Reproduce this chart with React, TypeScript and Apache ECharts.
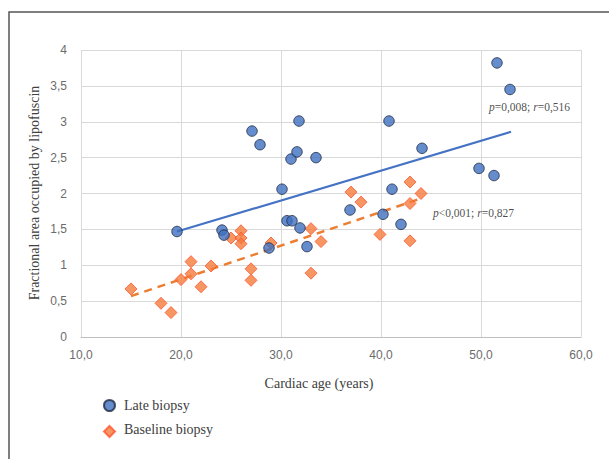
import React, { useEffect, useRef } from "react";
import * as echarts from "echarts";

// Late biopsy: [cardiac age, fractional area]
const lateBiopsy: [number, number][] = [
  [19.6, 1.47], [24.1, 1.49], [24.3, 1.42], [27.1, 2.87], [27.9, 2.68],
  [28.8, 1.24], [30.1, 2.06], [30.6, 1.62], [31.1, 1.62], [31.0, 2.48],
  [31.6, 2.58], [31.8, 3.01], [31.9, 1.52], [32.6, 1.26], [33.5, 2.5],
  [36.9, 1.77], [40.2, 1.71], [40.8, 3.01], [41.1, 2.06], [42.0, 1.57],
  [44.1, 2.63], [49.8, 2.35], [51.3, 2.25], [51.6, 3.82], [52.9, 3.45],
];

// Baseline biopsy
const baselineBiopsy: [number, number][] = [
  [15.0, 0.67], [18.0, 0.47], [19.0, 0.34], [20.0, 0.8], [21.0, 1.05],
  [21.0, 0.88], [22.0, 0.7], [23.0, 0.99], [25.0, 1.38], [26.0, 1.48],
  [26.0, 1.38], [26.0, 1.3], [27.0, 0.95], [27.0, 0.79], [29.0, 1.31],
  [33.0, 1.51], [34.0, 1.33], [33.0, 0.89], [37.0, 2.02], [38.0, 1.88],
  [39.9, 1.43], [42.9, 2.16], [42.9, 1.86], [42.9, 1.34], [44.0, 2.0],
];

// Linear trend lines (endpoints)
const lateTrend: [number, number][] = [[19.6, 1.47], [53.0, 2.86]];
const baselineTrend: [number, number][] = [[15.0, 0.57], [44.0, 1.93]];

// Annotations
const lateAnnotationPos: [number, number] = [50.8, 3.2];
const lateAnnotation = ["p", "=0,008; ", "r", "=0,516"];
const baselineAnnotationPos: [number, number] = [45.2, 1.73];
const baselineAnnotation = ["p", "<0,001; ", "r", "=0,827"];

const xMin = 10, xMax = 60, xInterval = 10;
const yMin = 0, yMax = 4, yInterval = 0.5;

const xTitle = "Cardiac age (years)";
const yTitle = "Fractional area occupied by lipofuscin";
const legendNames = ["Late biopsy", "Baseline biopsy"];

const serif = "'Liberation Serif', 'Times New Roman', serif";
const sans = "'Liberation Sans', Arial, sans-serif";

const richAnno = (parts: string[]) =>
  `{i|${parts[0]}}{n|${parts[1]}}{i|${parts[2]}}{n|${parts[3]}}`;

export default function App() {
  const ref = useRef<HTMLDivElement>(null);
  useEffect(() => {
    if (!ref.current) return;
    const chart = echarts.init(ref.current, undefined, { renderer: "svg" });
    const annoLabel = (parts: string[]) => ({
      show: true,
      position: "inside" as const,
      align: "left" as const,
      verticalAlign: "middle" as const,
      formatter: richAnno(parts),
      rich: {
        i: { fontFamily: serif, fontStyle: "italic", fontSize: 11.5, color: "#1a1a1a" },
        n: { fontFamily: serif, fontSize: 11.5, color: "#1a1a1a" },
      },
    });
    const legendLabel = (text: string, y: number) => ({
      type: "text",
      x: 124,
      y,
      style: {
        text,
        fontFamily: serif,
        fontSize: 14,
        fill: "#404040",
        align: "left",
        verticalAlign: "middle",
      },
    });
    chart.setOption({
      animation: false,
      backgroundColor: "#ffffff",
      grid: { left: 81, right: 28, top: 50, bottom: 122, containLabel: false },
      legend: {
        data: [
          { name: legendNames[0], icon: "circle" },
          { name: legendNames[1], icon: "diamond" },
        ],
        orient: "vertical",
        left: 98,
        top: 394,
        itemWidth: 11,
        itemHeight: 11,
        itemGap: 13,
        formatter: () => "",
        textStyle: { fontSize: 11 },
        selectedMode: false,
      },
      xAxis: {
        type: "value",
        min: xMin,
        max: xMax,
        interval: xInterval,
        axisLine: { show: true, lineStyle: { color: "#bfbfbf", width: 1 } },
        axisTick: { show: false },
        splitLine: { show: true, lineStyle: { color: "#d9d9d9", width: 1 } },
        axisLabel: {
          fontFamily: sans,
          fontSize: 12,
          color: "#6b6b6b",
          margin: 12,
          formatter: (v: number) => v.toFixed(1).replace(".", ","),
        },
      },
      yAxis: {
        type: "value",
        min: yMin,
        max: yMax,
        interval: yInterval,
        axisLine: { show: false },
        axisTick: { show: false },
        splitLine: { show: true, lineStyle: { color: "#d9d9d9", width: 1 } },
        axisLabel: {
          fontFamily: sans,
          fontSize: 12,
          color: "#6b6b6b",
          margin: 14,
          formatter: (v: number) => String(v).replace(".", ","),
        },
      },
      graphic: [
        {
          type: "rect",
          shape: { x: 9, y: 12, width: 700, height: 500 },
          style: { fill: "none", stroke: "#555555", lineWidth: 1.5 },
          silent: true,
        },
        {
          type: "text",
          x: 319,
          y: 383,
          style: {
            text: xTitle,
            fontFamily: serif,
            fontSize: 14,
            fill: "#404040",
            align: "center",
            verticalAlign: "middle",
          },
        },
        {
          type: "text",
          x: 34,
          y: 193,
          rotation: Math.PI / 2,
          style: {
            text: yTitle,
            fontFamily: serif,
            fontSize: 14,
            fill: "#404040",
            align: "center",
            verticalAlign: "middle",
          },
        },
        legendLabel(legendNames[0], 405),
        legendLabel(legendNames[1], 429),
      ],
      series: [
        {
          name: "lateTrend",
          type: "line",
          data: lateTrend,
          symbol: "none",
          z: 1,
          lineStyle: { color: "#4472C4", width: 2.2 },
          silent: true,
        },
        {
          name: "baselineTrend",
          type: "line",
          data: baselineTrend,
          symbol: "none",
          z: 1,
          lineStyle: { color: "#ED7D31", width: 2.5, type: [8, 6] },
          silent: true,
        },
        {
          name: legendNames[0],
          type: "scatter",
          data: lateBiopsy,
          symbol: "circle",
          symbolSize: 10.5,
          z: 3,
          itemStyle: { color: "#3F6FBF", borderColor: "#1E2A44", borderWidth: 1 },
        },
        {
          name: legendNames[1],
          type: "scatter",
          data: baselineBiopsy,
          symbol: "diamond",
          symbolSize: 12,
          z: 2,
          itemStyle: { color: "#F47C3C", borderColor: "#FF5530", borderWidth: 1 },
        },
        {
          name: "annotations",
          type: "scatter",
          symbolSize: 0,
          z: 4,
          silent: true,
          data: [
            { value: lateAnnotationPos, label: annoLabel(lateAnnotation) },
            { value: baselineAnnotationPos, label: annoLabel(baselineAnnotation) },
          ],
        },
      ],
    });
    return () => chart.dispose();
  }, []);
  return (
    <div
      ref={ref}
      style={{ position: "fixed", left: 0, top: 0, width: 609, height: 459 }}
    />
  );
}
